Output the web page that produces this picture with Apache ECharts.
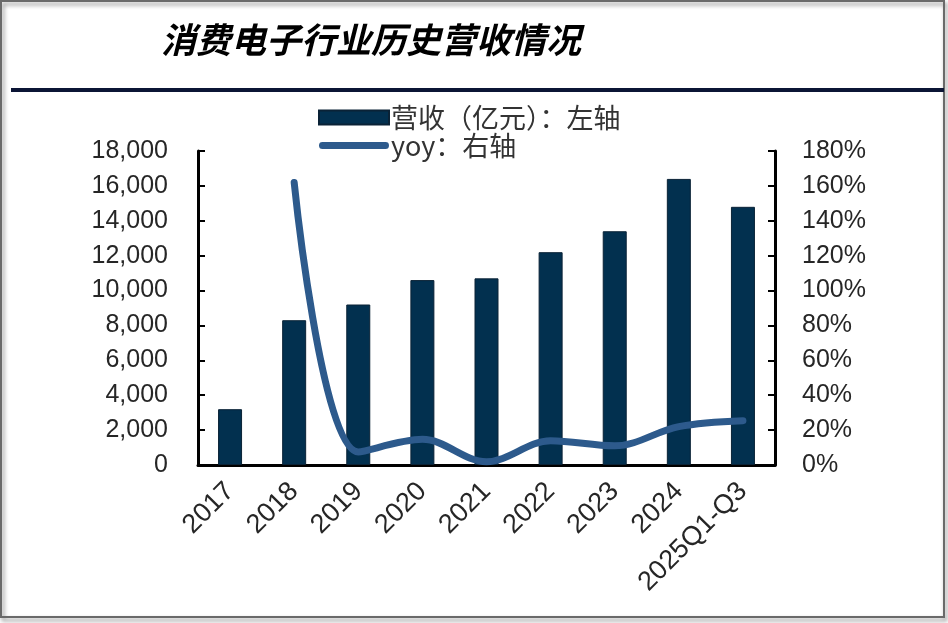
<!DOCTYPE html>
<html>
<head>
<meta charset="utf-8">
<script src="https://cdn.jsdelivr.net/npm/echarts@6/dist/echarts.min.js"></script>
<style>
html,body{margin:0;padding:0;background:#fff;}
#chart{width:948px;height:623px;}
</style>
</head>
<body>
<div id="chart"></div>
<script>
var titleText = '消费电子行业历史营收情况';
var categories = ['2017','2018','2019','2020','2021','2022','2023','2024','2025Q1-Q3'];
var revenue = [3200, 8300, 9200, 10600, 10700, 12200, 13400, 16400, 14800];
var yoy = [null, 162, 7.5, 14.7, 1.9, 13.9, 11, 22, 25.4];
var leftTicks = {min: 0, max: 18000, interval: 2000};
var rightTicks = {min: 0, max: 180, interval: 20};
var seriesNames = ['营收（亿元）：左轴', 'yoy：右轴'];

var chart = echarts.init(document.getElementById('chart'), null, {renderer: 'canvas'});
var labelFont = 'Liberation Sans, Arial, sans-serif';
var cjkFont = '"Noto Sans CJK SC", sans-serif';
var lineIcon = 'path://M0,0L0.01,0Z M0,14L0.01,14Z M3.5,3.5L66.5,3.5A3.5,3.5 0 0 1 66.5,10.5L3.5,10.5A3.5,3.5 0 0 1 3.5,3.5Z M70,0L70.01,0Z';
chart.setOption({
  backgroundColor: '#ffffff',
  animation: false,
  title: {
    text: titleText,
    left: 156, top: 17,
    textStyle: {fontFamily: cjkFont, fontStyle: 'italic', fontWeight: 'bold', fontSize: 35, color: '#000'}
  },
  graphic: [
    {type: 'rect', shape: {x: 1, y: 1, width: 943, height: 616}, style: {fill: 'none', stroke: '#6a6a6a', lineWidth: 2, shadowBlur: 4, shadowOffsetX: 2, shadowOffsetY: 3, shadowColor: 'rgba(0,0,0,0.5)'}, silent: true, z: -1},
    {type: 'line', shape: {x1: 11, y1: 90, x2: 944, y2: 90}, style: {stroke: '#0b1535', lineWidth: 4}, silent: true}
  ],
  legend: {
    orient: 'vertical',
    left: 313, top: 99,
    itemWidth: 70, itemHeight: 14,
    itemGap: 1,
    textStyle: {fontFamily: cjkFont, fontSize: 27, color: '#333', lineHeight: 26, padding: [0,0,0,-3]},
    data: [
      {name: seriesNames[0], icon: 'rect'},
      {name: seriesNames[1], icon: lineIcon, itemStyle: {color: '#2d5a8c', borderWidth: 0}}
    ]
  },
  grid: {left: 198, right: 173, top: 151, bottom: 158, containLabel: false},
  xAxis: {
    type: 'category',
    data: categories,
    axisLine: {lineStyle: {color: '#000', width: 3}},
    axisTick: {inside: true, length: 6, lineStyle: {color: '#000', width: 2}, alignWithLabel: false},
    axisLabel: {rotate: 45, fontFamily: labelFont, fontSize: 27, color: '#262626', margin: 22, interval: 0}
  },
  yAxis: [
    {
      type: 'value', min: leftTicks.min, max: leftTicks.max, interval: leftTicks.interval,
      position: 'left',
      axisLine: {show: true, lineStyle: {color: '#000', width: 3}},
      axisTick: {show: true, inside: true, length: 7, lineStyle: {color: '#000', width: 2}},
      splitLine: {show: false},
      axisLabel: {fontFamily: labelFont, fontSize: 25, color: '#262626', margin: 30,
        formatter: function(v){ return v.toLocaleString('en-US'); }}
    },
    {
      type: 'value', min: rightTicks.min, max: rightTicks.max, interval: rightTicks.interval,
      position: 'right',
      axisLine: {show: true, lineStyle: {color: '#000', width: 3}},
      axisTick: {show: true, inside: true, length: 7, lineStyle: {color: '#000', width: 2}},
      splitLine: {show: false},
      axisLabel: {fontFamily: labelFont, fontSize: 25, color: '#262626', margin: 27,
        formatter: function(v){ return v + '%'; }}
    }
  ],
  series: [
    {
      name: seriesNames[0], type: 'bar', yAxisIndex: 0, data: revenue,
      barWidth: 24,
      itemStyle: {color: '#02304f', borderColor: '#0a2236', borderWidth: 1}
    },
    {
      name: seriesNames[1], type: 'line', yAxisIndex: 1, data: yoy,
      smooth: 0.35, symbol: 'none', connectNulls: false,
      lineStyle: {color: '#2d5a8c', width: 7, cap: 'round'},
      itemStyle: {color: '#2d5a8c'}
    }
  ]
});
</script>
</body>
</html>
